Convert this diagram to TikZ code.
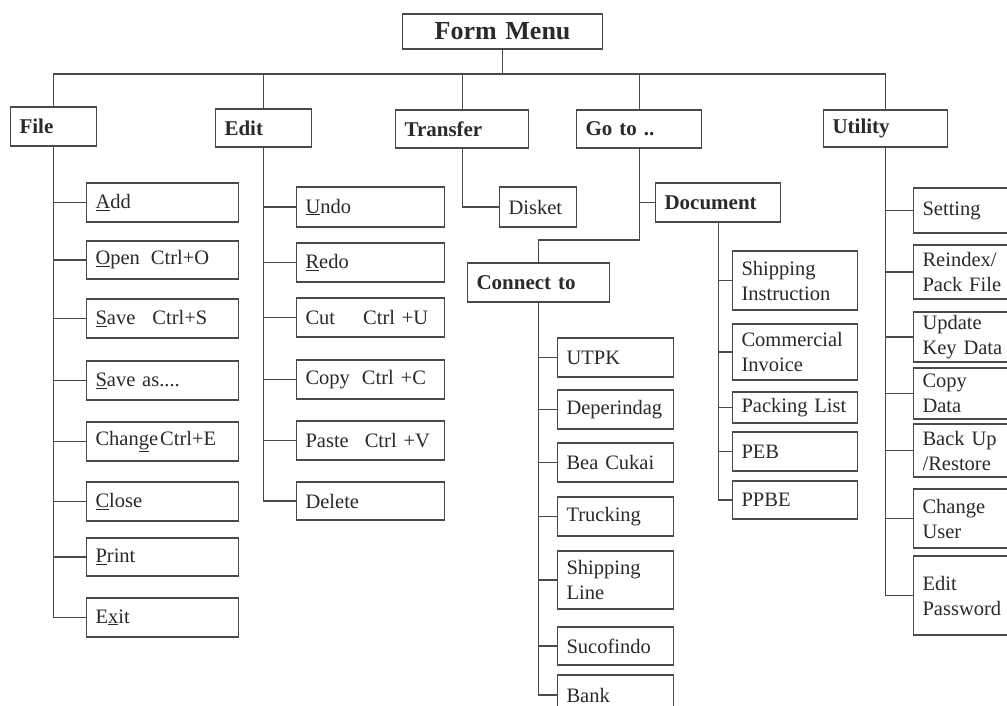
\documentclass[tikz,border=0pt]{standalone}
\usepackage{fontspec}
\setmainfont{Liberation Serif}
\definecolor{inkgray}{HTML}{2A2A2A}
\definecolor{linegray}{HTML}{4A4A4A}
% box from (x1,y1) to (x2,y2), text set flush left inside
\newcommand\mkbox[7]{%
  \pgfmathsetmacro\mkbw{#4-#2}%
  \pgfmathsetmacro\mkbh{#5-#3}%
  \pgfmathsetmacro\mkbt{#4-#2-18}%
  \pgfmathsetmacro\mkby{(#3+#5)/2}%
  \node[#6, minimum width=\mkbw pt, minimum height=\mkbh pt, text width=\mkbt pt] (#1) at (#2,\mkby) {#7};}
\begin{document}
\begin{tikzpicture}[x=1pt,y=-1pt,
  mbox/.style={draw=linegray, line width=1.1pt, rectangle, anchor=west,
    inner xsep=9pt, inner ysep=0pt, align=left, text=inkgray,
    font=\fontsize{20.5}{25}\selectfont},
  hbox/.style={mbox, font=\fontsize{21}{25}\selectfont\bfseries},
  titlebox/.style={mbox, align=center, font=\fontsize{26}{30}\selectfont\bfseries},
  link/.style={draw=linegray, line width=1.1pt}]
\useasboundingbox (0,0) rectangle (1007,706);
\fill[white] (0,0) rectangle (1007,706);
\clip (0,0) rectangle (1007,706);

% top level
\mkbox{menu}{402}{14}{602}{49}{titlebox}{Form Menu}
\mkbox{file}{10}{107}{96}{146}{hbox}{File}
\mkbox{edit}{215}{109}{311}{147}{hbox}{Edit}
\mkbox{transfer}{395}{110}{528}{148}{hbox}{Transfer}
\mkbox{goto}{576}{110}{701}{148}{hbox}{Go to ..}
\mkbox{utility}{823}{110}{947}{147}{hbox}{Utility}

% File menu
\mkbox{add}{86}{183}{238}{222}{mbox}{\underline{A}dd}
\mkbox{open}{86}{241}{238}{279}{mbox}{\underline{O}pen\hspace{11pt}Ctrl+O}
\mkbox{save}{86}{299}{238}{338}{mbox}{\underline{S}ave\hspace{17pt}Ctrl+S}
\mkbox{saveas}{86}{361}{238}{400}{mbox}{\underline{S}ave as....}
\mkbox{change}{86}{422}{238}{461}{mbox}{Chan\underline{g}e\hspace{2pt}Ctrl+E}
\mkbox{close}{86}{482}{238}{521}{mbox}{\underline{C}lose}
\mkbox{print}{86}{538}{238}{576}{mbox}{\underline{P}rint}
\mkbox{exit}{86}{598}{238}{637}{mbox}{E\underline{x}it}

% Edit menu
\mkbox{undo}{296}{187}{444}{227}{mbox}{\underline{U}ndo}
\mkbox{redo}{296}{243}{444}{282}{mbox}{\underline{R}edo}
\mkbox{cut}{296}{298}{444}{337}{mbox}{Cut\hspace{28pt}Ctrl +U}
\mkbox{copy}{296}{360}{444}{399}{mbox}{Copy\hspace{12pt}Ctrl +C}
\mkbox{paste}{296}{421}{444}{460}{mbox}{Paste\hspace{16pt}Ctrl +V}
\mkbox{delete}{296}{482}{444}{520}{mbox}{Delete}

% Transfer menu
\mkbox{disket}{499}{187}{576}{227}{mbox}{Disket}

% Go to menu
\mkbox{document}{655}{183}{780}{222}{hbox}{Document}
\mkbox{connect}{467}{263}{609}{302}{hbox}{Connect to}

% Connect to
\mkbox{utpk}{557}{338}{673}{377}{mbox}{UTPK}
\mkbox{deperindag}{557}{390}{673}{429}{mbox}{Deperindag}
\mkbox{beacukai}{557}{443}{673}{482}{mbox}{Bea Cukai}
\mkbox{trucking}{557}{497}{673}{536}{mbox}{Trucking}
\mkbox{shipline}{557}{551}{673}{609}{mbox}{Shipping\\Line}
\mkbox{sucofindo}{557}{627}{673}{665}{mbox}{Sucofindo}
\mkbox{bank}{557}{675}{673}{715}{mbox}{Bank}

% Document
\mkbox{shipinst}{732}{251}{857}{310}{mbox}{Shipping\\Instruction}
\mkbox{comminv}{732}{324}{857}{380}{mbox}{Commercial\\Invoice}
\mkbox{packing}{732}{392}{857}{423}{mbox}{Packing List}
\mkbox{peb}{732}{432}{857}{471}{mbox}{PEB}
\mkbox{ppbe}{732}{481}{857}{519}{mbox}{PPBE}

% Utility menu
\mkbox{setting}{913}{188}{1012}{233}{mbox}{Setting}
\mkbox{reindex}{913}{245}{1012}{299}{mbox}{Reindex/\\Pack File}
\mkbox{update}{913}{312}{1012}{362}{mbox}{Update\\Key Data}
\mkbox{copydata}{913}{368}{1012}{419}{mbox}{Copy\\Data}
\mkbox{backup}{913}{424}{1012}{477}{mbox}{Back Up\\/Restore}
\mkbox{changeuser}{913}{489}{1012}{548}{mbox}{Change\\User}
\mkbox{editpw}{913}{556}{1012}{635}{mbox}{Edit\\Password}

% bus under the title
\coordinate (bus) at (0,74);
\draw[link] (menu.south) -- (menu.south |- bus);
\draw[link] (file.north) -- (file.north |- bus) -- (utility.north |- bus) -- (utility.north);
\foreach \n in {edit,transfer,goto}
  \draw[link] (\n.north) -- (\n.north |- bus);

% File branches
\draw[link] (file.south) |- (exit.west);
\foreach \n in {add,open,save,saveas,change,close,print}
  \draw[link] (\n.west) -- (\n.west -| file.south);

% Edit branches
\draw[link] (edit.south) |- (delete.west);
\foreach \n in {undo,redo,cut,copy,paste}
  \draw[link] (\n.west) -- (\n.west -| edit.south);

% Transfer branch
\draw[link] (transfer.south) |- (disket.west);

% Go to branches
\coordinate (gobend) at (0,240);
\draw[link] (goto.south) |- (document.west);
\draw[link] (goto.south) -- (goto.south |- gobend) -| (connect.north);

% Connect to branches
\draw[link] (connect.south) |- (bank.west);
\foreach \n in {utpk,deperindag,beacukai,trucking,shipline,sucofindo}
  \draw[link] (\n.west) -- (\n.west -| connect.south);

% Document branches
\draw[link] (document.south) |- (ppbe.west);
\foreach \n in {shipinst,comminv,packing,peb}
  \draw[link] (\n.west) -- (\n.west -| document.south);

% Utility branches
\draw[link] (utility.south) |- (editpw.west);
\foreach \n in {setting,reindex,update,copydata,backup,changeuser}
  \draw[link] (\n.west) -- (\n.west -| utility.south);
\end{tikzpicture}
\end{document}
